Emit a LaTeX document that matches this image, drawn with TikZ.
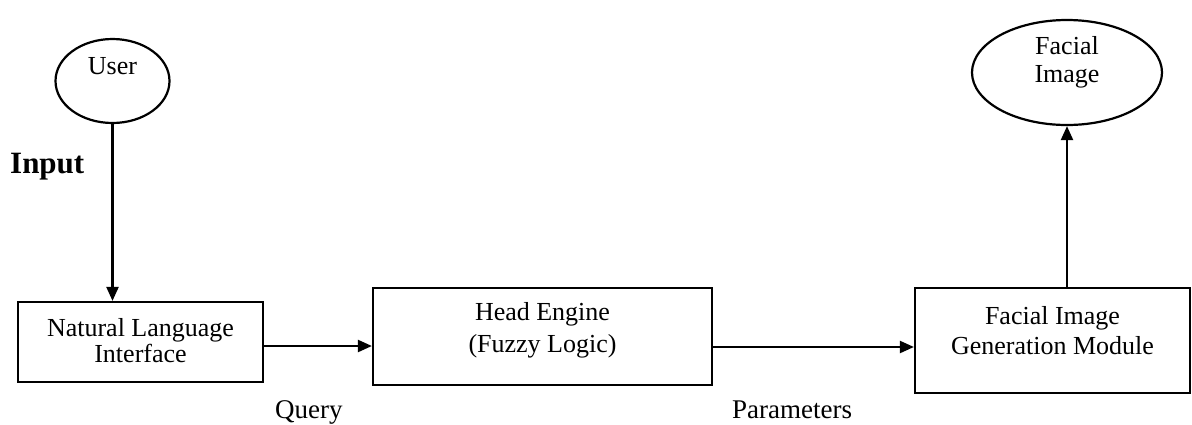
\documentclass[tikz,border=0pt]{standalone}
\usepackage{fontspec}
\setmainfont{Liberation Serif}
\usetikzlibrary{shapes.geometric,arrows.meta}
\begin{document}
\begin{tikzpicture}[x=1pt,y=-1pt,
  shp/.style={draw=black,line width=2.2pt},
  boxtxt/.style={align=center,inner sep=0pt,font=\fontsize{26}{30}\selectfont},
  lbl/.style={inner sep=0pt,anchor=base west,font=\fontsize{27}{30}\selectfont},
  arr/.style={line width=2.2pt,-{Triangle[length=14pt,width=12pt]}}]
\useasboundingbox (0,0) rectangle (1192,424);
% ellipses
\node[shp,ellipse,minimum width=114pt,minimum height=84pt,inner sep=0pt] (user) at (112.5,81) {};
\node[boxtxt] (usert) at (112.5,66) {User};
\node[shp,ellipse,minimum width=190pt,minimum height=105pt,inner sep=0pt] (face) at (1067,72.5) {};
\node[boxtxt,font=\fontsize{26}{28}\selectfont] (facet) at (1067,62) {Facial\\Image};
% boxes
\node[shp,rectangle,minimum width=245pt,minimum height=80pt,inner sep=0pt] (nli) at (140.5,342) {};
\node[boxtxt,font=\fontsize{26}{26}\selectfont] (nlit) at (140.5,341) {Natural Language\\Interface};
\node[shp,rectangle,minimum width=339pt,minimum height=97pt,inner sep=0pt] (he) at (542.5,336.5) {};
\node[boxtxt,font=\fontsize{26}{32}\selectfont] (het) at (542.5,330) {Head Engine\\(Fuzzy Logic)};
\node[shp,rectangle,minimum width=275pt,minimum height=105pt,inner sep=0pt] (fig) at (1052.5,340.5) {};
\node[boxtxt] (figt) at (1052.5,331) {Facial Image\\Generation Module};
% labels
\node[lbl,font=\fontsize{31}{32}\selectfont\bfseries] (input) at (10,173) {Input};
\node[lbl] (query) at (275,418) {Query};
\node[lbl] (params) at (732,418) {Parameters};
% connectors
\draw[arr] (user.south) -- (nli.north -| user.south);
\draw[arr] (nli.east |- 0,346) -- (he.west |- 0,346);
\draw[arr] (he.east |- 0,347) -- (fig.west |- 0,347);
\draw[arr] (fig.north -| face.south) -- (face.south);
\end{tikzpicture}
\end{document}
